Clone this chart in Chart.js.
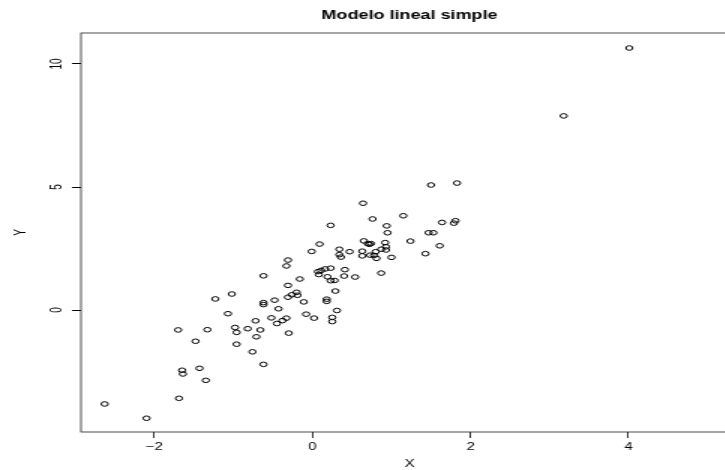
<!DOCTYPE html>
<html lang="es">
<head>
<meta charset="utf-8">
<title>Modelo lineal simple</title>
<script src="https://cdn.jsdelivr.net/npm/chart.js@4.4.1/dist/chart.umd.min.js"></script>
<style>
  html, body { margin: 0; padding: 0; background: #fff; overflow: hidden; }
  #frame { width: 725px; height: 470px; overflow: hidden; }
  /* el original está estirado en horizontal, por eso el scaleX */
  #wrap { width: 492px; height: 470px; transform: scaleX(1.5); transform-origin: 0 0; }
</style>
</head>
<body>
<div id="frame"><div id="wrap"><canvas id="grafico" width="492" height="470"></canvas></div></div>
<script>
// Datos
const xValues = [
  -2.63, -2.10, -1.69, -1.65, -1.64, -1.43, -1.35, -1.70, -1.33, -1.48,
  -1.23, -1.07, -1.02, -0.98, -0.96, -0.96, -0.82, -0.76, -0.62, -0.71,
  -0.66, -0.72, -0.62, -0.62, -0.48, -0.43, -0.52, -0.33, -0.38, -0.45,
  -0.30, -0.11, -0.08, 0.02, 0.25, 0.25, 0.31, 0.18, 0.18, 0.29,
  -0.20, -0.26, -0.31, -0.19, -0.31, -0.16, -0.62, -0.33, -0.31,
  0.07, 0.11, 0.16, 0.23,
  0.08, 0.19, 0.23, 0.28, 0.41, 0.40, 0.54, 0.87,
  -0.01, 0.09, 0.23, 0.34, 0.34, 0.36, 0.47, 0.63, 0.63, 0.65,
  0.70, 0.72, 0.74, 0.73, 0.78, 0.81, 0.80, 0.87, 0.92, 0.93,
  0.93, 1.00, 0.64, 0.76, 0.94, 0.95, 1.15, 1.24, 1.43, 1.47,
  1.53, 1.61, 1.64, 1.81, 1.79, 1.50, 1.83, 3.18, 4.01
];
const yValues = [
  -3.82, -4.40, -3.59, -2.45, -2.60, -2.37, -2.86, -0.81, -0.80, -1.27,
  0.45, -0.15, 0.65, -0.71, -0.91, -1.39, -0.76, -1.70, -2.21, -1.09,
  -0.81, -0.44, 0.30, 0.22, 0.40, 0.05, -0.32, -0.33, -0.43, -0.55,
  -0.94, 0.33, -0.17, -0.33, -0.30, -0.47, -0.02, 0.44, 0.35, 0.77,
  0.72, 0.62, 0.52, 0.60, 1.00, 1.26, 1.39, 1.79, 2.03,
  1.56, 1.61, 1.67, 1.70,
  1.44, 1.35, 1.19, 1.20, 1.64, 1.38, 1.34, 1.50,
  2.38, 2.68, 3.44, 2.47, 2.25, 2.15, 2.37, 2.39, 2.20, 2.81,
  2.70, 2.67, 2.70, 2.23, 2.22, 2.10, 2.37, 2.47, 2.74, 2.57,
  2.44, 2.14, 4.34, 3.70, 3.42, 3.14, 3.83, 2.80, 2.29, 3.14,
  3.14, 2.61, 3.56, 3.63, 3.53, 5.08, 5.16, 7.89, 10.65
];
const xTicks = [-2, 0, 2, 4];
const yTicks = [0, 5, 10];

const fuente = 'Liberation Sans, Arial, Helvetica, sans-serif';
const menos = v => String(v).replace('-', '\u2212');

// Caja alrededor del área del gráfico (como box() en R)
const marco = {
  id: 'marco',
  afterDraw(chart) {
    const { ctx, chartArea: a } = chart;
    ctx.save();
    ctx.strokeStyle = '#222';
    ctx.lineWidth = 0.8;
    ctx.strokeRect(a.left, a.top, a.right - a.left, a.bottom - a.top);
    ctx.restore();
  }
};

new Chart(document.getElementById('grafico').getContext('2d'), {
  type: 'scatter',
  data: {
    datasets: [{
      data: xValues.map((x, i) => ({ x: x, y: yValues[i] })),
      pointStyle: 'circle',
      pointRadius: 2.3,
      pointBorderWidth: 1,
      pointBorderColor: '#000',
      pointBackgroundColor: 'rgba(0,0,0,0)'
    }]
  },
  options: {
    responsive: false,
    animation: false,
    layout: { padding: 0, autoPadding: false },
    plugins: {
      legend: { display: false },
      tooltip: { enabled: false },
      title: {
        display: true,
        text: 'Modelo lineal simple',
        color: '#000',
        fullSize: false,
        font: { family: fuente, size: 12, weight: 'bold' },
        padding: { top: 8, bottom: 10.6 }
      }
    },
    scales: {
      x: {
        type: 'linear',
        min: -2.93,
        max: 5.386,
        afterBuildTicks: s => { s.ticks = xTicks.map(v => ({ value: v })); },
        afterFit: s => { s.height = 38; },
        grid: { drawOnChartArea: false, drawTicks: true, tickLength: 6, color: '#000', lineWidth: 0.8 },
        border: { display: false },
        ticks: { color: '#000', padding: 3, font: { family: fuente, size: 10 }, callback: menos, maxRotation: 0 },
        title: { display: true, text: 'X', color: '#000', font: { family: fuente, size: 10 }, padding: { top: 0, bottom: 0 } }
      },
      y: {
        type: 'linear',
        min: -4.959,
        max: 11.26,
        afterBuildTicks: s => { s.ticks = yTicks.map(v => ({ value: v })); },
        afterFit: s => { s.width = 54; },
        grid: { drawOnChartArea: false, drawTicks: true, tickLength: 6, color: '#000', lineWidth: 1 },
        border: { display: false },
        ticks: { color: '#000', padding: 4.5, crossAlign: 'center', minRotation: 90, maxRotation: 90, font: { family: fuente, size: 10 }, callback: menos },
        title: { display: true, text: 'Y', color: '#000', font: { family: fuente, size: 10 }, padding: { top: 8, bottom: 0 } }
      }
    }
  },
  plugins: [marco]
});
</script>
</body>
</html>
